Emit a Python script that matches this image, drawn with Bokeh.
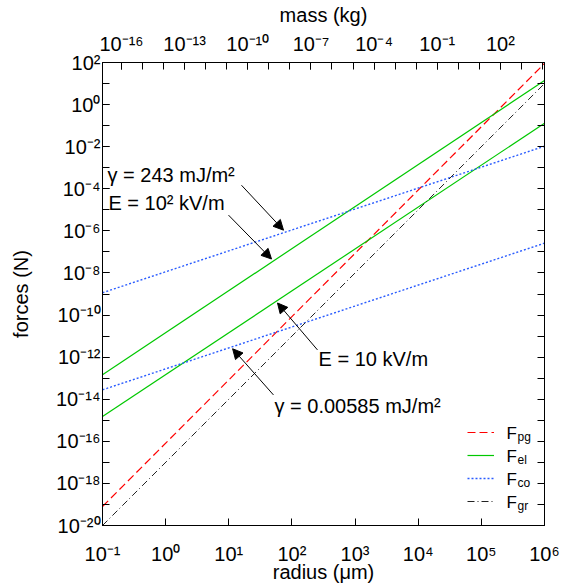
from bokeh.plotting import figure
from bokeh.models import (Range1d, LogAxis, LogScale, FixedTicker, CustomJSTickFormatter,
                          Legend, LegendItem, Label, Arrow, NormalHead)
from bokeh.embed import file_html
from bokeh.resources import INLINE

FONT = "Liberation Sans"

# ---- data ----
radius = [0.1, 1e6]                 # µm, line end points
F_pg = [8e-20, 9e1]
F_el_high = [1.45e-13, 1.4e1]
F_el_low = [1.5e-15, 1.3e-1]
F_co_high = [1.15e-9, 1.05e-2]
F_co_low = [2.8e-14, 2.6e-7]
F_gr = [1e-20, 1e1]

x_exps = list(range(-1, 7))
y_exps = list(range(-20, 3))
y_label_exps = list(range(-20, 3, 2))
mass_range = [1.25e-17, 1.25e4]
mass_exps = list(range(-16, 5))
mass_label_exps = [-16, -13, -10, -7, -4, -1, 2]

ann_texts = ["γ = 243 mJ/m²", "E = 10² kV/m", "E = 10 kV/m", "γ = 0.00585 mJ/m²"]
ann_pos = [(0.12, 4.55e-4), (0.124, 2.13e-5), (264, 8.6e-13), (53, 5.0e-15)]
arrows = [((15.9, 1.47e-4), (73.6, 1.08e-6)),
          ((9.9, 5.6e-6), (47.5, 4.6e-8)),
          ((254, 2.2e-12), (59.1, 3.74e-10)),
          ((51, 1.6e-14), (11.5, 2.5e-12))]

legend_subs = ["pg", "el", "co", "gr"]
legend_F_x = 10 ** 5.398
legend_F_y = [10 ** -15.623, 10 ** -16.714, 10 ** -17.804, 10 ** -18.895]
legend_sub_x = 10 ** 5.573
legend_sub_y = [10 ** -15.813, 10 ** -16.903, 10 ** -17.994, 10 ** -19.085]

sup_code = """
const sup = {'-':'\u207b','0':'\u2070','1':'\u00b9','2':'\u00b2','3':'\u00b3','4':'\u2074',
             '5':'\u2075','6':'\u2076','7':'\u2077','8':'\u2078','9':'\u2079'};
const e = Math.round(Math.log10(tick));
return '10' + String(e).split('').map(c => sup[c]).join('');
"""

p = figure(width=561, height=585, x_axis_type="log", y_axis_type="log",
           x_range=Range1d(radius[0], radius[1]), y_range=Range1d(1e-20, 1e2),
           output_backend="svg", toolbar_location=None,
           min_border_left=102, min_border_right=17, min_border_top=62, min_border_bottom=59)
p.xgrid.visible = False
p.ygrid.visible = False
p.outline_line_color = "black"
p.outline_line_width = 1
p.background_fill_color = "white"
p.border_fill_color = "white"

def style_axis(ax):
    ax.major_tick_in = 7
    ax.major_tick_out = 0
    ax.minor_tick_in = 7
    ax.minor_tick_out = 0
    ax.axis_line_color = "black"
    ax.major_tick_line_color = "black"
    ax.minor_tick_line_color = "black"
    ax.major_label_text_font = FONT
    ax.major_label_text_font_size = "20px"
    ax.major_label_text_color = "black"
    ax.axis_label_text_font = FONT
    ax.axis_label_text_font_size = "20px"
    ax.axis_label_text_font_style = "normal"
    ax.axis_label_text_color = "black"

xa = p.xaxis[0]
xa.ticker = FixedTicker(ticks=[10.0 ** e for e in x_exps], minor_ticks=[])
xa.formatter = CustomJSTickFormatter(code=sup_code)
xa.axis_label = "radius (μm)"
style_axis(xa)
xa.major_label_standoff = 17
xa.axis_label_standoff = -7

ya = p.yaxis[0]
ya.ticker = FixedTicker(ticks=[10.0 ** e for e in y_label_exps], minor_ticks=[10.0 ** e for e in y_exps])
ya.formatter = CustomJSTickFormatter(code=sup_code)
ya.axis_label = "forces (N)"
style_axis(ya)
ya.major_label_standoff = 2
ya.axis_label_standoff = 21

ra = LogAxis(ticker=FixedTicker(ticks=[10.0 ** e for e in y_exps], minor_ticks=[]),
             formatter=CustomJSTickFormatter(code="return '';"))
style_axis(ra)
ra.major_label_standoff = 0
p.add_layout(ra, "right")

p.extra_x_ranges = {"mass": Range1d(mass_range[0], mass_range[1])}
p.extra_x_scales = {"mass": LogScale()}
ta = LogAxis(x_range_name="mass",
             ticker=FixedTicker(ticks=[10.0 ** e for e in mass_label_exps],
                                minor_ticks=[10.0 ** e for e in mass_exps]),
             formatter=CustomJSTickFormatter(code=sup_code), axis_label="mass (kg)")
style_axis(ta)
ta.major_label_standoff = 8
ta.axis_label_standoff = 4
p.add_layout(ta, "above")

r_pg = p.line(radius, F_pg, line_color="#ff0000", line_width=1.2, line_dash="8 4")
r_el1 = p.line(radius, F_el_high, line_color="#00c800", line_width=1.2)
r_el2 = p.line(radius, F_el_low, line_color="#00c800", line_width=1.2)
r_co1 = p.line(radius, F_co_high, line_color="#2a5cff", line_width=1.4, line_dash="2 2")
r_co2 = p.line(radius, F_co_low, line_color="#2a5cff", line_width=1.4, line_dash="2 2")
r_gr = p.line(radius, F_gr, line_color="#222222", line_width=1.0, line_dash="7 3 1 3")

legend = Legend(items=[LegendItem(label=" ", renderers=[r_pg]),
                       LegendItem(label=" ", renderers=[r_el1]),
                       LegendItem(label=" ", renderers=[r_co1]),
                       LegendItem(label=" ", renderers=[r_gr])],
                location=(365, 14), glyph_width=27, glyph_height=20, label_height=20,
                label_width=1, label_standoff=0, spacing=3, padding=0, margin=0,
                border_line_color=None, background_fill_alpha=0,
                label_text_font=FONT, label_text_font_size="10px")
p.add_layout(legend)

for yv in legend_F_y:
    p.add_layout(Label(x=legend_F_x, y=yv, text="F", text_font=FONT, text_font_size="17px",
                       text_baseline="alphabetic", text_align="left", text_color="black"))
for s, yv in zip(legend_subs, legend_sub_y):
    p.add_layout(Label(x=legend_sub_x, y=yv, text=s, text_font=FONT, text_font_size="12px",
                       text_baseline="alphabetic", text_align="left", text_color="black"))

for t, (tx, ty) in zip(ann_texts, ann_pos):
    p.add_layout(Label(x=tx, y=ty, text=t, text_font=FONT, text_font_size="20px",
                       text_baseline="alphabetic", text_align="left", text_color="black"))

for (s0, s1) in arrows:
    p.add_layout(Arrow(end=NormalHead(size=10, fill_color="black", line_color="black", line_width=1),
                       x_start=s0[0], y_start=s0[1], x_end=s1[0], y_end=s1[1],
                       line_color="black", line_width=1))

open("out.html", "w").write(file_html(p, INLINE))
